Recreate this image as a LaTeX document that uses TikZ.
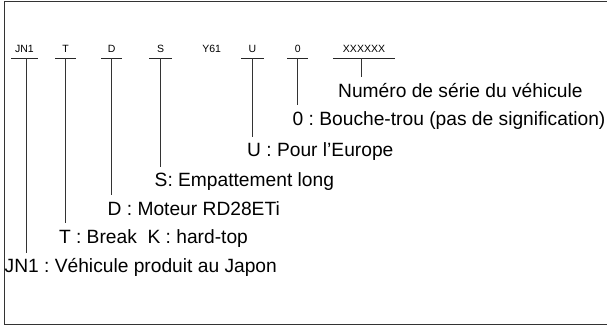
\documentclass[tikz,border=0pt]{standalone}
\usepackage{fontspec}
\setmainfont{Liberation Sans}
\frenchspacing
\begin{document}
\begin{tikzpicture}[x=1pt,y=-1pt,
  code/.style={font=\fontsize{10.5}{12}\selectfont, anchor=base, text depth=0pt, inner ysep=5.3pt, inner xsep=0pt},
  desc/.style={font=\fontsize{19.2}{22}\selectfont, anchor=base west, text height=14pt, text depth=4pt, inner xsep=0pt, inner ysep=6pt},
  uline/.style={line width=0.9pt, black!85},
  conn/.style={line width=0.8pt, black!80},
  frame/.style={line width=1.6pt, black!80}]
\useasboundingbox (0,0) rectangle (607,326);
\draw[frame] (607,1.7) -- (4.3,1.7) -- (4.3,324.3) -- (607,324.3);
% codes
\node[code, minimum width=26pt] (cJN) at (24.5,52.7) {JN1};
\node[code, minimum width=21pt] (cT) at (65.7,52.7) {T};
\node[code, minimum width=21pt] (cD) at (111.7,52.7) {D};
\node[code, minimum width=22pt] (cS) at (160.5,52.7) {S};
\node[code] (cY) at (211.7,52.7) {Y61};
\node[code, minimum width=22pt] (cU) at (252.3,52.7) {U};
\node[code, minimum width=21pt] (cO) at (297.7,52.7) {0};
\node[code, minimum width=62pt] (cX) at (364,52.7) {XXXXXX};
\foreach \n in {cJN,cT,cD,cS,cU,cO,cX}
  \draw[uline] (\n.south west) -- (\n.south east);
% descriptions
\node[desc] (dX) at (338,97.7) {Numéro de série du véhicule};
\node[desc] (dO) at (292.5,125) {0 : Bouche-trou (pas de signification)};
\node[desc] (dU) at (247,156.7) {U : Pour l’Europe};
\node[desc] (dS) at (154.5,186.7) {S: Empattement long};
\node[desc] (dD) at (107.5,215) {D : Moteur RD28ETi};
\node[desc] (dT) at (58.8,243.3) {T : Break\ \ K : hard-top};
\node[desc] (dJN) at (4.5,272.7) {JN1 : Véhicule produit au Japon};
% connectors
\draw[conn] (cJN.south -| 26.7,0) -- (26.7,0 |- dJN.north);
\draw[conn] (cT.south) -- (cT.south |- dT.north);
\draw[conn] (cD.south) -- (cD.south |- dD.north);
\draw[conn] (cS.south) -- (cS.south |- dS.north);
\draw[conn] (cU.south) -- (cU.south |- dU.north);
\draw[conn] (cO.south) -- (cO.south |- dO.north);
\draw[conn] (361.7,0 |- cX.south) -- (361.7,0 |- dX.north);
\end{tikzpicture}
\end{document}
